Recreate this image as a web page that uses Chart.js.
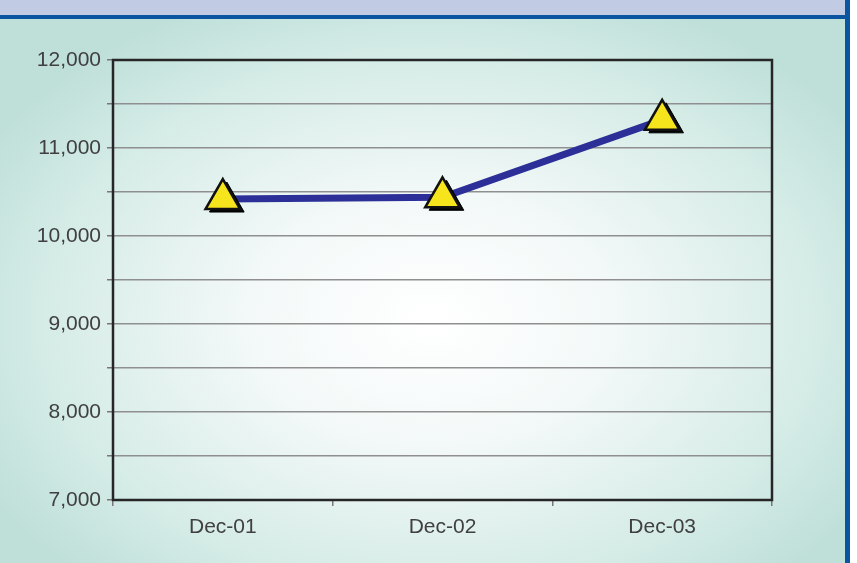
<!DOCTYPE html>
<html>
<head>
<meta charset="utf-8">
<script src="https://cdn.jsdelivr.net/npm/chart.js@4.4.1/dist/chart.umd.min.js"></script>
<style>
  html, body { margin: 0; padding: 0; background: #fff; }
  #myChart { display: block; }
</style>
</head>
<body>
<canvas id="myChart" width="857" height="563"></canvas>
<script>
// data
const labels = ['Dec-01', 'Dec-02', 'Dec-03'];
const values = [10420, 10440, 11320];
const yMin = 7000;
const yMax = 12000;
const yStep = 500;

// panel background: header band, blue rules, soft radial gradient
const backdrop = {
  id: 'backdrop',
  beforeDraw(chart) {
    const c = chart.ctx;
    c.save();
    c.fillStyle = '#ffffff';
    c.fillRect(0, 0, chart.width, chart.height);
    c.fillStyle = '#c2cbe4';
    c.fillRect(0, 0, 846, 16);
    // radial gradient, stretched horizontally
    c.save();
    c.beginPath();
    c.rect(0, 19, 846, chart.height - 19);
    c.clip();
    c.translate(430, 320);
    c.scale(1.45, 1);
    const g = c.createRadialGradient(0, 0, 0, 0, 0, 350);
    g.addColorStop(0, '#ffffff');
    g.addColorStop(0.35, '#f3f9f8');
    g.addColorStop(0.75, '#d6ece7');
    g.addColorStop(1, '#bfe0d9');
    c.fillStyle = g;
    c.fillRect(-400, -320, 800, 640);
    c.restore();
    c.fillStyle = '#0a55a0';
    c.fillRect(0, 15, 850, 4);
    c.fillRect(845, 0, 5, chart.height);
    c.restore();
  },
  beforeDatasetsDraw(chart) {
    const a = chart.chartArea;
    const c = chart.ctx;
    c.save();
    c.strokeStyle = '#262626';
    c.lineWidth = 2.5;
    c.strokeRect(a.left, a.top, a.right - a.left, a.bottom - a.top);
    c.restore();
  },
  // black drop shadow under each marker
  beforeDatasetDraw(chart, args) {
    if (args.index !== 0) return;
    const c = chart.ctx;
    c.save();
    c.fillStyle = '#000';
    c.strokeStyle = '#000';
    chart.getDatasetMeta(0).data.forEach(p => {
      Chart.helpers.drawPoint(c, { pointStyle: 'triangle', radius: 20, borderWidth: 2.5 }, p.x + 4, p.y + 3);
    });
    c.restore();
  }
};

const ctx = document.getElementById('myChart');
new Chart(ctx, {
  type: 'line',
  data: {
    labels: labels,
    datasets: [{
      label: 'markers',
      data: values,
      showLine: false,
      pointStyle: 'triangle',
      pointRadius: 20,
      pointBackgroundColor: '#f6e41c',
      pointBorderColor: '#111',
      pointBorderWidth: 2.5
    }, {
      label: 'line',
      data: values,
      borderColor: '#2c2f98',
      borderWidth: 7,
      pointRadius: 0,
      tension: 0
    }]
  },
  options: {
    responsive: false,
    animation: false,
    layout: { padding: { top: 60, right: 85, left: 0, bottom: 0 } },
    plugins: {
      legend: { display: false },
      tooltip: { enabled: false }
    },
    scales: {
      x: {
        offset: true,
        grid: {
          offset: true,
          drawOnChartArea: false,
          tickLength: 6,
          tickColor: '#777',
          lineWidth: 1.5
        },
        border: { display: false },
        ticks: {
          color: '#404040',
          padding: 9,
          font: { family: 'Liberation Sans, Arial, sans-serif', size: 21 }
        },
        afterFit(scale) { scale.height = 63; }
      },
      y: {
        min: yMin,
        max: yMax,
        ticks: {
          stepSize: yStep,
          color: '#404040',
          padding: 6,
          font: { family: 'Liberation Sans, Arial, sans-serif', size: 21 },
          callback: v => v % 1000 === 0 ? v.toLocaleString('en-US') : ''
        },
        grid: {
          color: '#8f8f8f',
          lineWidth: 1.5,
          tickLength: 6,
          tickColor: '#777'
        },
        border: { display: false },
        afterFit(scale) { scale.width = 113; }
      }
    }
  },
  plugins: [backdrop]
});
</script>
</body>
</html>
